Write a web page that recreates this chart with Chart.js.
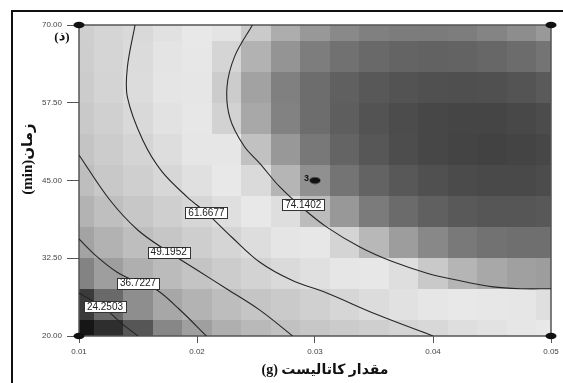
<!DOCTYPE html>
<html>
<head>
<meta charset="utf-8">
<script src="https://cdn.jsdelivr.net/npm/chart.js@4.4.0/dist/chart.umd.min.js"></script>
<style>
  html, body { margin: 0; padding: 0; background: #fff; }
</style>
</head>
<body>
<canvas id="myChart" width="563" height="383"></canvas>
<script>
// catalyst amount (g) and time (min) of the shaded grid
const catalyst = [0.01, 0.0125, 0.015, 0.0175, 0.02, 0.0225, 0.025, 0.0275, 0.03,
                  0.0325, 0.035, 0.0375, 0.04, 0.0425, 0.045, 0.0475, 0.05];
const times = [20, 25, 30, 35, 40, 45, 50, 55, 60, 65, 70];

const r20 = [13, 19, 24, 30, 35, 39.6, 43.9, 48.2, 51.2, 53.8, 56.4, 59.1, 61.7, 63.8, 65.6, 67, 68];
const r25 = [21, 26.3, 31.5, 36.7, 41.2, 45.6, 50, 53.5, 57, 60.5, 63, 65.2, 67, 68.6, 70, 71, 71.8];
const r30 = [29.5, 34.8, 39.7, 44.6, 49.6, 54.4, 58.5, 62.3, 64.7, 67.1, 69.5, 71.9, 74.3, 75.8, 76.8, 77.4, 77.6];
const r35 = [36, 40.8, 46.1, 51, 55.4, 59.9, 63.6, 66.8, 70, 73.2, 75.6, 77.6, 79.2, 80.4, 81.2, 81.6, 81.6];
const r40 = [41.5, 46.6, 51.6, 56, 60.4, 64.4, 68.2, 72, 75.3, 78, 80.2, 82, 83.3, 84.2, 84.6, 84.7, 84.4];
const r45 = [46, 51.8, 56.3, 61, 64.9, 68.6, 72.4, 75.8, 78.6, 81, 82.9, 84.4, 85.5, 86.2, 86.5, 86.4, 86];
const r50 = [49.8, 54.6, 59.2, 63.6, 67.3, 71, 74.9, 78, 80.6, 82.8, 84.5, 85.8, 86.7, 87.2, 87.4, 87.2, 86.7];
const r55 = [52.5, 57, 61.9, 65.6, 69.5, 73.4, 76.8, 79.6, 81.8, 83.6, 85, 86, 86.7, 87, 87, 86.6, 86];
const r60 = [54.5, 59, 63.1, 66.8, 70.5, 74.1, 77.2, 79.8, 81.8, 83.3, 84.4, 85.1, 85.5, 85.6, 85.4, 84.9, 84.1];
const r65 = [55.5, 59.6, 62.8, 66.3, 69.8, 73.1, 76, 78.3, 80, 81.3, 82.2, 82.8, 83, 82.9, 82.5, 81.9, 81];
const r70 = [56, 59.4, 62.1, 65.3, 68.4, 71.2, 74.2, 76.4, 78, 79.1, 79.8, 80.1, 80.2, 80, 79.5, 78.8, 77.9];
const grid = [r20, r25, r30, r35, r40, r45, r50, r55, r60, r65, r70];

// contour lines [catalyst, time]
const contour24 = [[0.01, 26.9], [0.0122, 24.4], [0.0135, 22.2], [0.015, 20]];
const contour36 = [[0.01, 35.6], [0.0115, 32.8], [0.0132, 30.3], [0.015, 28.6], [0.0166, 27.4], [0.0185, 24.3], [0.0208, 20]];
const contour49 = [[0.01, 49.1], [0.0126, 41.9], [0.015, 37], [0.0176, 33.5], [0.02, 30.6], [0.0225, 27.6], [0.0253, 24.2], [0.0281, 20]];
const contour61 = [[0.01475, 70], [0.0141, 63.2], [0.0141, 58.4], [0.0154, 51.5], [0.017, 46.5], [0.0192, 42.3], [0.0208, 39.8],
                   [0.023, 35.8], [0.0253, 31.9], [0.028, 29], [0.031, 26.9], [0.0353, 23.4], [0.04, 20]];
const contour74 = [[0.0247, 70], [0.0232, 65], [0.02254, 60], [0.0228, 55], [0.024, 50.5], [0.0253, 47.8], [0.027, 44],
                   [0.029, 40.5], [0.031, 37.5], [0.0338, 34.3], [0.0365, 32], [0.0395, 30.1], [0.042, 29], [0.0451, 27.9],
                   [0.0475, 27.6], [0.05, 27.6]];

// contour labels
const labelText = ['24.2503', '36.7227', '49.1952', '61.6677', '74.1402'];
const labelX = [0.0122, 0.015, 0.0176, 0.0208, 0.029];
const labelY = [24.7, 28.5, 33.5, 39.8, 41.1];

// design points
const cornerX = [0.01, 0.05, 0.01, 0.05];
const cornerY = [70, 70, 20, 20];
const centerX = [0.03];
const centerY = [45];

const xTicks = [0.01, 0.02, 0.03, 0.04, 0.05];
const yTicks = [20, 32.5, 45, 57.5, 70];

// grey levels for the response (blue-green-yellow-red map printed in grey)
const greyStops = [[12, 18], [20, 50], [25, 95], [30, 135], [37, 168], [45, 188], [55, 205], [62, 217],
                   [68, 232], [71, 230], [74, 205], [77, 165], [80, 125], [83, 98], [86, 76], [88, 62]];
function shade(v) {
  let g = greyStops[0][1];
  for (let i = 1; i < greyStops.length; i++) {
    const [v0, g0] = greyStops[i - 1], [v1, g1] = greyStops[i];
    if (v <= v0) break;
    g = v >= v1 ? g1 : g0 + (g1 - g0) * (v - v0) / (v1 - v0);
  }
  g = Math.round(g);
  return `rgb(${g},${g},${g})`;
}

const dot = document.createElement('canvas');
dot.width = 12; dot.height = 8;
const dc = dot.getContext('2d');
dc.fillStyle = '#111';
dc.beginPath(); dc.ellipse(6, 4, 5.5, 3.3, 0, 0, Math.PI * 2); dc.fill();

const toPts = arr => arr.map(p => ({x: p[0], y: p[1]}));
const lineSet = arr => ({
  type: 'line', data: toPts(arr), showLine: true, pointRadius: 0,
  borderColor: '#262626', borderWidth: 1.1, tension: 0.35, fill: false
});

const heatmap = {
  id: 'heatmap',
  beforeDatasetsDraw(chart) {
    const {ctx, chartArea: a, scales: {x, y}} = chart;
    const dx = 0.00125, dt = 2.5;
    ctx.save();
    ctx.beginPath(); ctx.rect(a.left, a.top, a.right - a.left, a.bottom - a.top); ctx.clip();
    grid.forEach((row, j) => {
      const y0 = Math.round(y.getPixelForValue(times[j] + dt));
      const y1 = Math.round(y.getPixelForValue(times[j] - dt));
      row.forEach((val, i) => {
        const x0 = Math.round(x.getPixelForValue(catalyst[i] - dx));
        const x1 = Math.round(x.getPixelForValue(catalyst[i] + dx));
        ctx.fillStyle = shade(val);
        ctx.fillRect(x0, y0, x1 - x0, y1 - y0);
      });
    });
    ctx.restore();
    ctx.save();
    ctx.strokeStyle = '#555'; ctx.lineWidth = 1.5;
    ctx.strokeRect(a.left, a.top, a.right - a.left, a.bottom - a.top);
    ctx.restore();
  }
};

const decorations = {
  id: 'decorations',
  afterDatasetsDraw(chart) {
    const {ctx, scales: {x, y}} = chart;
    ctx.save();
    ctx.font = '10px "Liberation Sans", Arial';
    ctx.textAlign = 'center'; ctx.textBaseline = 'middle';
    labelText.forEach((t, i) => {
      const px = x.getPixelForValue(labelX[i]), py = y.getPixelForValue(labelY[i]);
      const w = ctx.measureText(t).width + 6, h = 11;
      ctx.fillStyle = '#fff';
      ctx.fillRect(Math.round(px - w / 2) + 0.5, Math.round(py - h / 2) + 0.5, Math.round(w), h);
      ctx.strokeStyle = '#333'; ctx.lineWidth = 1;
      ctx.strokeRect(Math.round(px - w / 2) + 0.5, Math.round(py - h / 2) + 0.5, Math.round(w), h);
      ctx.fillStyle = '#222';
      ctx.fillText(t, px, py + 0.5);
    });
    // design point number
    ctx.font = 'bold 9px "Liberation Sans", Arial';
    ctx.textAlign = 'right';
    ctx.fillStyle = '#111';
    ctx.fillText('3', x.getPixelForValue(centerX[0]) - 6, y.getPixelForValue(centerY[0]) - 2);
    ctx.restore();
  },
  afterDraw(chart) {
    const {ctx} = chart;
    ctx.save();
    // outer frame
    ctx.fillStyle = '#111';
    ctx.fillRect(11, 10, 552, 2);
    ctx.fillRect(11, 10, 2, 373);
    ctx.fillStyle = '#111';
    ctx.direction = 'rtl';
    ctx.textBaseline = 'middle';
    ctx.textAlign = 'center';
    ctx.font = 'bold 14px "Liberation Serif", "DejaVu Sans"';
    ctx.fillText('مقدار کاتالیست (g)', 325, 370);
    ctx.font = 'bold 13px "Liberation Serif", "DejaVu Sans"';
    ctx.fillText('(ذ)', 62, 38);
    ctx.translate(28, 159);
    ctx.rotate(-Math.PI / 2);
    ctx.font = 'bold 15px "Liberation Serif", "DejaVu Sans"';
    ctx.fillText('زمان(min)', 0, 0);
    ctx.restore();
  }
};

const ctx = document.getElementById('myChart').getContext('2d');
const chart = new Chart(ctx, {
  type: 'scatter',
  data: {
    datasets: [
      {data: cornerX.map((v, i) => ({x: v, y: cornerY[i]})), pointStyle: dot, pointRadius: 5, clip: false},
      {data: centerX.map((v, i) => ({x: v, y: centerY[i]})), pointStyle: dot, pointRadius: 5, clip: false},
      lineSet(contour24),
      lineSet(contour36),
      lineSet(contour49),
      lineSet(contour61),
      lineSet(contour74)
    ]
  },
  options: {
    responsive: false,
    animation: false,
    devicePixelRatio: 1,
    layout: {padding: {left: 0, top: 25, right: 12, bottom: 0}},
    plugins: {legend: {display: false}, tooltip: {enabled: false}},
    scales: {
      x: {
        type: 'linear', min: 0.01, max: 0.05,
        afterBuildTicks: s => { s.ticks = xTicks.map(v => ({value: v})); },
        afterFit: s => { s.height = 47; },
        border: {display: false},
        grid: {drawOnChartArea: false, drawTicks: true, tickLength: 7, color: '#555'},
        ticks: {padding: 4, color: '#444', font: {size: 8, family: '"Liberation Sans", Arial'}, maxRotation: 0,
                callback: v => Number(v).toFixed(2)}
      },
      y: {
        type: 'linear', min: 20, max: 70,
        afterBuildTicks: s => { s.ticks = yTicks.map(v => ({value: v})); },
        afterFit: s => { s.width = 79; },
        border: {display: false},
        grid: {drawOnChartArea: false, drawTicks: true, tickLength: 12, color: '#555'},
        ticks: {padding: 5, color: '#444', font: {size: 8, family: '"Liberation Sans", Arial'},
                callback: v => Number(v).toFixed(2)}
      }
    }
  },
  plugins: [heatmap, decorations]
});
</script>
</body>
</html>
